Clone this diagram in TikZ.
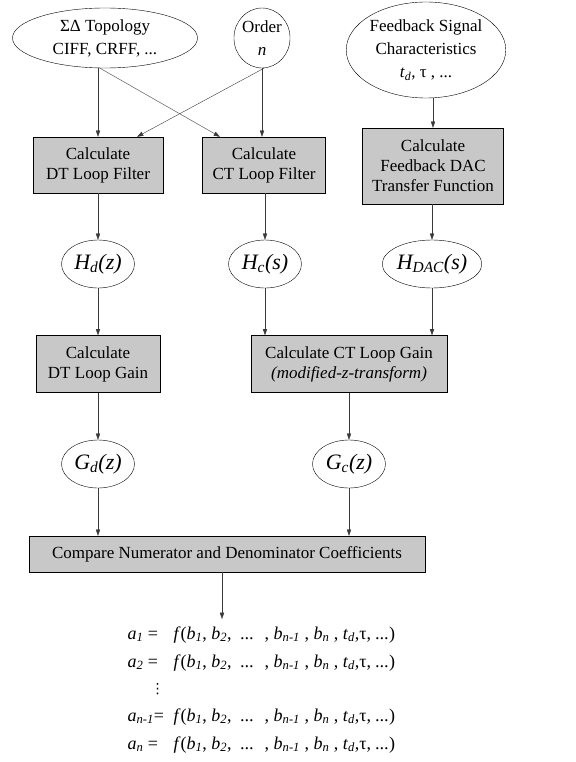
\documentclass[tikz,border=0pt]{standalone}
\usepackage{fontspec}
\setmainfont{Liberation Serif}
\newfontfamily\symfont{DejaVu Sans}
\usetikzlibrary{arrows.meta,positioning,shapes.geometric}
\definecolor{boxgray}{HTML}{C8C8C8}
\definecolor{linegray}{HTML}{3A3A3A}
\newcommand{\isub}[1]{\textsubscript{\textit{#1}}}
\newcommand{\coefrhs}{\textit{f}(\textit{b}\isub{1}, \textit{b}\isub{2}, \ \textit{...} \ , \textit{b}\isub{n-1} , \textit{b}\isub{n} , \textit{t}\isub{d},τ, \textit{...})}

\begin{document}
\begin{tikzpicture}[
  x=1pt,y=-1pt,
  every node/.style={font=\fontsize{17}{20}\selectfont,align=center},
  proc/.style={draw,fill=boxgray,inner sep=0pt},
  param/.style={draw,ellipse,fill=white,inner sep=0pt,font=\fontsize{17}{23}\selectfont},
  fn/.style={font=\fontsize{22}{26}\selectfont\itshape},
  arr/.style={-{Triangle[length=2.2mm,width=1.5mm]},color=linegray}
]
\useasboundingbox[fill=white] (0,0) rectangle (575,762);
% inputs
\node[param,minimum width=185pt,minimum height=60pt] (topo) at (105,38) {ΣΔ Topology\\CIFF, CRFF, ...};
\node[param,minimum width=53pt,minimum height=60pt] (order) at (262,38) {Order\\\textit{n}};
\node[param,minimum width=155pt,minimum height=96pt] (fbsig) at (426,50) {Feedback Signal\\Characteristics\\\textit{t}\isub{d}, τ , ...};
% loop filters
\node[proc,minimum width=130pt,minimum height=56pt] (dtfilt) at (98,165) {Calculate\\DT Loop Filter};
\node[proc,minimum width=123pt,minimum height=56pt] (ctfilt) at (264,165) {Calculate\\CT Loop Filter};
\node[proc,minimum width=141pt,minimum height=76pt] (dacfn) at (433,166) {Calculate\\Feedback DAC\\Transfer Function};
\node[param,fn,minimum width=73pt,minimum height=48pt] (hd) at (98,264) {H\isub{d}(z)};
\node[param,fn,minimum width=73pt,minimum height=48pt] (hc) at (265,264) {H\isub{c}(s)};
\node[param,fn,minimum width=73pt,minimum height=48pt] (hdac) at (432,264) {H\isub{DAC}(s)};
% loop gains
\node[proc,minimum width=124pt,minimum height=57pt] (dtgain) at (98,364) {Calculate\\DT Loop Gain};
\node[proc,minimum width=196pt,minimum height=57pt] (ctgain) at (349,364) {Calculate CT Loop Gain\\\textit{(modified-z-transform)}};
\node[param,fn,minimum width=73pt,minimum height=48pt] (gd) at (98,464) {G\isub{d}(z)};
\node[param,fn,minimum width=73pt,minimum height=48pt] (gc) at (349,464) {G\isub{c}(z)};
\node[proc,minimum width=396pt,minimum height=36pt] (cmp) at (227,554) {Compare Numerator and Denominator Coefficients};
% result
\coordinate (eqtop) at (222,619);
\node[anchor=north west,font=\fontsize{18}{28}\selectfont,align=left] (coefs) at (124,616) {%
  \begin{tabular}{@{}l@{\ \ }l@{}}
  \textit{a}\isub{1} = & \coefrhs\\
  \textit{a}\isub{2} = & \coefrhs\\[-2pt]
  \hspace{23pt}{\symfont\fontsize{14}{28}\selectfont ⋮} & \\
  \textit{a}\isub{n-1}= & \coefrhs\\
  \textit{a}\isub{n} = & \coefrhs
  \end{tabular}};
\draw[arr] (topo.south -| dtfilt.north) -- (dtfilt.north);
\draw[arr] ([xshift=-5pt]topo.south) -- ([xshift=-44pt]ctfilt.north);
\draw[arr] (order.south) -- (order.south |- ctfilt.north);
\draw[arr] ([xshift=2pt]order.south) -- ([xshift=39pt]dtfilt.north);
\draw[arr] (fbsig.south -| dacfn.north) -- (dacfn.north);
\draw[arr] (dtfilt) -- (hd);
\draw[arr] (ctfilt.south -| hc) -- (hc);
\draw[arr] (dacfn.south -| hdac) -- (hdac);
\draw[arr] (hd) -- (dtgain);
\draw[arr] (hc) -- (hc |- ctgain.north);
\draw[arr] (hdac) -- (hdac |- ctgain.north);
\draw[arr] (dtgain) -- (gd);
\draw[arr] (ctgain) -- (gc);
\draw[arr] (gd) -- (gd |- cmp.north);
\draw[arr] (gc) -- (gc |- cmp.north);
\draw[arr] (cmp.south -| eqtop) -- (eqtop);
\end{tikzpicture}
\end{document}
